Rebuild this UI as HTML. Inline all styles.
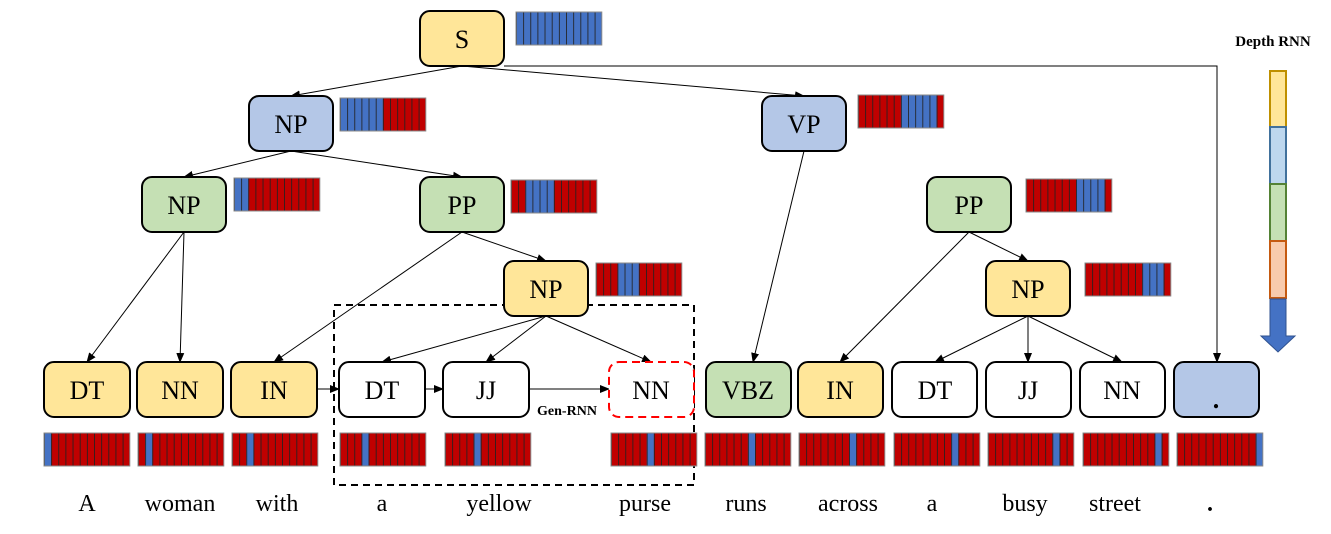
<!DOCTYPE html>
<html><head><meta charset="utf-8"><style>
html,body{margin:0;padding:0;background:#fff;width:1331px;height:534px;overflow:hidden}
</style></head><body>
<svg width="1331" height="534" viewBox="0 0 1331 534" xmlns="http://www.w3.org/2000/svg" font-family="Liberation Serif, serif">
<defs>
<marker id="a" markerWidth="10" markerHeight="8" refX="9" refY="4" orient="auto" markerUnits="userSpaceOnUse"><path d="M0,0 L10,4 L0,8 z" fill="#000"/></marker>
<pattern id="cells" width="0.0833333" height="1" patternUnits="objectBoundingBox"><line x1="0.4" y1="0" x2="0.4" y2="40" stroke="#222" stroke-width="0.9"/></pattern>
</defs>
<g stroke="#000" stroke-width="1" marker-end="url(#a)" fill="none">
<line x1="462" y1="66" x2="291" y2="96"/>
<line x1="462" y1="66" x2="804" y2="96"/>
<line x1="291" y1="151" x2="184" y2="177"/>
<line x1="291" y1="151" x2="462" y2="177"/>
<line x1="184" y1="232" x2="87" y2="362"/>
<line x1="184" y1="232" x2="180" y2="362"/>
<line x1="462" y1="232" x2="274" y2="362"/>
<line x1="462" y1="232" x2="546" y2="261"/>
<line x1="546" y1="316" x2="382" y2="362"/>
<line x1="546" y1="316" x2="486" y2="362"/>
<line x1="546" y1="316" x2="651" y2="362"/>
<line x1="804" y1="151" x2="753" y2="362"/>
<line x1="969" y1="232" x2="840" y2="362"/>
<line x1="969" y1="232" x2="1028" y2="261"/>
<line x1="1028" y1="316" x2="935" y2="362"/>
<line x1="1028" y1="316" x2="1028" y2="362"/>
<line x1="1028" y1="316" x2="1122" y2="362"/>
<polyline points="504,66 1217,66 1217,362"/>
<line x1="317" y1="389" x2="339" y2="389"/>
<line x1="425" y1="389" x2="443" y2="389"/>
<line x1="529" y1="389" x2="609" y2="389"/>
</g>
<rect x="334" y="305" width="360" height="180" fill="none" stroke="#000" stroke-width="2" stroke-dasharray="7,5"/>
<g stroke="#000" stroke-width="2">
<rect x="420" y="11" width="84" height="55" rx="10" fill="#ffe699"/>
<rect x="249" y="96" width="84" height="55" rx="10" fill="#b4c7e7"/>
<rect x="762" y="96" width="84" height="55" rx="10" fill="#b4c7e7"/>
<rect x="142" y="177" width="84" height="55" rx="10" fill="#c5e0b4"/>
<rect x="420" y="177" width="84" height="55" rx="10" fill="#c5e0b4"/>
<rect x="927" y="177" width="84" height="55" rx="10" fill="#c5e0b4"/>
<rect x="504" y="261" width="84" height="55" rx="10" fill="#ffe699"/>
<rect x="986" y="261" width="84" height="55" rx="10" fill="#ffe699"/>
<rect x="44" y="362" width="86" height="55" rx="10" fill="#ffe699"/>
<rect x="137" y="362" width="86" height="55" rx="10" fill="#ffe699"/>
<rect x="231" y="362" width="86" height="55" rx="10" fill="#ffe699"/>
<rect x="339" y="362" width="86" height="55" rx="10" fill="#fff"/>
<rect x="443" y="362" width="86" height="55" rx="10" fill="#fff"/>
<rect x="609" y="362" width="85" height="55" rx="10" fill="#fff" stroke="#f00" stroke-dasharray="8,5"/>
<rect x="706" y="362" width="85" height="55" rx="10" fill="#c5e0b4"/>
<rect x="798" y="362" width="85" height="55" rx="10" fill="#ffe699"/>
<rect x="892" y="362" width="85" height="55" rx="10" fill="#fff"/>
<rect x="986" y="362" width="85" height="55" rx="10" fill="#fff"/>
<rect x="1080" y="362" width="85" height="55" rx="10" fill="#fff"/>
<rect x="1174" y="362" width="85" height="55" rx="10" fill="#b4c7e7"/>
</g>
<g font-size="26" text-anchor="middle" fill="#000">
<text x="462" y="48">S</text><text x="291" y="133">NP</text><text x="804" y="133">VP</text>
<text x="184" y="214">NP</text><text x="462" y="214">PP</text><text x="969" y="214">PP</text>
<text x="546" y="298">NP</text><text x="1028" y="298">NP</text>
<text x="87" y="399">DT</text><text x="180" y="399">NN</text><text x="274" y="399">IN</text>
<text x="382" y="399">DT</text><text x="486" y="399">JJ</text><text x="651" y="399">NN</text>
<text x="748" y="399">VBZ</text><text x="840" y="399">IN</text><text x="935" y="399">DT</text>
<text x="1028" y="399">JJ</text><text x="1122" y="399">NN</text><text x="1216" y="408" font-weight="bold">.</text>
</g>
<text x="567" y="415" font-size="14" font-weight="bold" text-anchor="middle">Gen-RNN</text>
<g font-size="24" text-anchor="middle">
<text x="87" y="511">A</text><text x="180" y="511">woman</text><text x="277" y="511">with</text>
<text x="382" y="511">a</text><text x="499" y="511">yellow</text><text x="645" y="511">purse</text>
<text x="746" y="511">runs</text><text x="848" y="511">across</text><text x="932" y="511">a</text>
<text x="1025" y="511">busy</text><text x="1115" y="511">street</text><text x="1210" y="511" font-weight="bold">.</text>
</g>
<text x="1273" y="46" font-size="15" font-weight="bold" text-anchor="middle">Depth RNN</text>

<!-- top bars -->
<g>
<rect x="516" y="12" width="85.8" height="33" fill="#4472c4"/>
<rect x="340" y="98" width="85.8" height="33" fill="#c00000"/><rect x="340" y="98" width="42.9" height="33" fill="#4472c4"/>
<rect x="234" y="178" width="85.8" height="33" fill="#c00000"/><rect x="234" y="178" width="14.3" height="33" fill="#4472c4"/>
<rect x="511" y="180" width="85.8" height="33" fill="#c00000"/><rect x="525.3" y="180" width="28.6" height="33" fill="#4472c4"/>
<rect x="596" y="263" width="85.8" height="33" fill="#c00000"/><rect x="617.45" y="263" width="21.45" height="33" fill="#4472c4"/>
<rect x="858" y="95" width="85.8" height="33" fill="#c00000"/><rect x="900.9" y="95" width="35.75" height="33" fill="#4472c4"/>
<rect x="1026" y="179" width="85.8" height="33" fill="#c00000"/><rect x="1076.05" y="179" width="28.6" height="33" fill="#4472c4"/>
<rect x="1085" y="263" width="85.8" height="33" fill="#c00000"/><rect x="1142.2" y="263" width="21.45" height="33" fill="#4472c4"/>
</g>
<!-- bottom bars -->
<g fill="#c00000">
<rect x="44" y="433" width="85.8" height="33"/><rect x="138" y="433" width="85.8" height="33"/>
<rect x="232" y="433" width="85.8" height="33"/><rect x="340" y="433" width="85.8" height="33"/>
<rect x="445" y="433" width="85.8" height="33"/><rect x="611" y="433" width="85.8" height="33"/>
<rect x="705" y="433" width="85.8" height="33"/><rect x="799" y="433" width="85.8" height="33"/>
<rect x="894" y="433" width="85.8" height="33"/><rect x="988" y="433" width="85.8" height="33"/>
<rect x="1083" y="433" width="85.8" height="33"/><rect x="1177" y="433" width="85.8" height="33"/>
</g>
<g fill="#4472c4">
<rect x="44" y="433" width="7.15" height="33"/><rect x="145.15" y="433" width="7.15" height="33"/>
<rect x="246.3" y="433" width="7.15" height="33"/><rect x="361.45" y="433" width="7.15" height="33"/>
<rect x="473.6" y="433" width="7.15" height="33"/><rect x="646.75" y="433" width="7.15" height="33"/>
<rect x="747.9" y="433" width="7.15" height="33"/><rect x="849.05" y="433" width="7.15" height="33"/>
<rect x="951.2" y="433" width="7.15" height="33"/><rect x="1052.35" y="433" width="7.15" height="33"/>
<rect x="1154.5" y="433" width="7.15" height="33"/><rect x="1255.65" y="433" width="7.15" height="33"/>
</g>
<!-- cell lines overlay -->
<g fill="url(#cells)" stroke="#8a8a8a" stroke-width="1">
<rect x="516" y="12" width="85.8" height="33"/><rect x="340" y="98" width="85.8" height="33"/>
<rect x="234" y="178" width="85.8" height="33"/><rect x="511" y="180" width="85.8" height="33"/>
<rect x="596" y="263" width="85.8" height="33"/><rect x="858" y="95" width="85.8" height="33"/>
<rect x="1026" y="179" width="85.8" height="33"/><rect x="1085" y="263" width="85.8" height="33"/>
<rect x="44" y="433" width="85.8" height="33"/><rect x="138" y="433" width="85.8" height="33"/>
<rect x="232" y="433" width="85.8" height="33"/><rect x="340" y="433" width="85.8" height="33"/>
<rect x="445" y="433" width="85.8" height="33"/><rect x="611" y="433" width="85.8" height="33"/>
<rect x="705" y="433" width="85.8" height="33"/><rect x="799" y="433" width="85.8" height="33"/>
<rect x="894" y="433" width="85.8" height="33"/><rect x="988" y="433" width="85.8" height="33"/>
<rect x="1083" y="433" width="85.8" height="33"/><rect x="1177" y="433" width="85.8" height="33"/>
</g>
<!-- depth legend -->
<rect x="1270" y="71" width="16" height="56" fill="#ffe699" stroke="#bf9000" stroke-width="2"/>
<rect x="1270" y="127" width="16" height="57" fill="#bdd7ee" stroke="#41719c" stroke-width="2"/>
<rect x="1270" y="184" width="16" height="57" fill="#c5e0b4" stroke="#548235" stroke-width="2"/>
<rect x="1270" y="241" width="16" height="57" fill="#f8cbad" stroke="#c55a11" stroke-width="2"/>
<path d="M1270,299 L1286,299 L1286,336 L1295,336 L1278,352 L1261,336 L1270,336 Z" fill="#4472c4" stroke="#2f528f" stroke-width="1"/>
</svg>
</body></html>
